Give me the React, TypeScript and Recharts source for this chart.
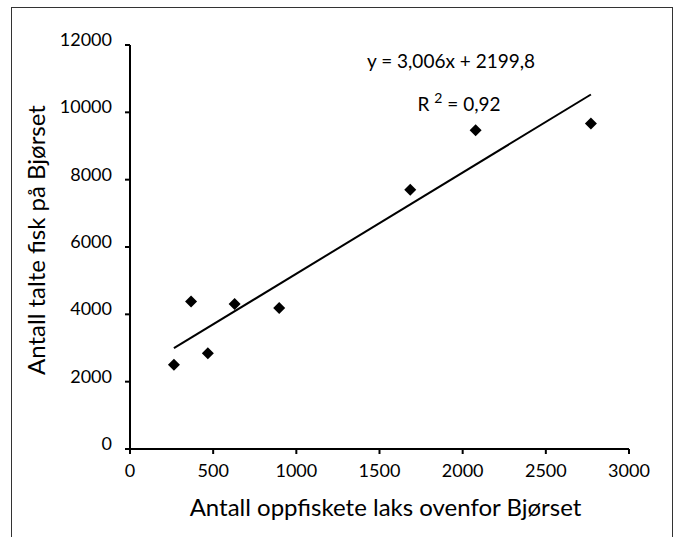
import React from 'react';
import {
  ScatterChart,
  Scatter,
  XAxis,
  YAxis,
  ReferenceLine,
  Label,
} from 'recharts';

// Antall oppfiskete laks ovenfor Bjørset (x) vs antall talte fisk på Bjørset (y)
const oppfisket = [264, 367, 468, 629, 897, 1685, 2078, 2771];
const talte = [2500, 4380, 2845, 4310, 4185, 7700, 9465, 9665];

const xTicks = [0, 500, 1000, 1500, 2000, 2500, 3000];
const yTicks = [0, 2000, 4000, 6000, 8000, 10000, 12000];

// trendline shown in the chart: y = 3,006x + 2199,8
const slope = 3.006;
const intercept = 2199.8;
const trendX = [264, 2771];

const points = oppfisket.map((x, i) => ({ x, y: talte[i] }));
const trendSegment = trendX.map((x) => ({ x, y: slope * x + intercept }));

const FONT = 'Lato, "Open Sans", sans-serif';

const Diamond = (props: any) => {
  const { cx, cy } = props;
  if (cx == null || cy == null) return null;
  const r = 6;
  return (
    <polygon
      points={`${cx},${cy - r} ${cx + r},${cy} ${cx},${cy + r} ${cx - r},${cy}`}
      fill="#000"
    />
  );
};

const YTick = ({ x, y, payload }: any) => (
  <text x={x} y={y + 1} textAnchor="end" fontSize={18} fontFamily={FONT} fill="#000">
    {payload.value}
  </text>
);

const XTick = ({ x, y, payload }: any) => (
  <text x={x} y={y + 21} textAnchor="middle" fontSize={18} fontFamily={FONT} fill="#000">
    {payload.value}
  </text>
);

export default function App() {
  return (
    <div style={{ position: 'absolute', left: 0, top: 0, width: 678, height: 537, overflow: 'hidden', background: '#fff' }}>
      <div
        style={{
          position: 'absolute',
          left: 11,
          top: 7,
          width: 660,
          height: 560,
          borderLeft: '1px solid #333',
          borderTop: '1px solid #333',
          borderRight: '1px solid #333',
        }}
      />
      <ScatterChart
        width={678}
        height={537}
        margin={{ top: 45, right: 49, bottom: 28, left: 70 }}
        style={{ position: 'absolute', left: 0, top: 0 }}
      >
        <XAxis
          type="number"
          dataKey="x"
          domain={[0, 3000]}
          ticks={xTicks}
          height={60}
          tickSize={5}
          tickMargin={2}
          axisLine={{ stroke: '#000', strokeWidth: 2 }}
          tickLine={{ stroke: '#000', strokeWidth: 2 }}
          tick={<XTick />}
          allowDataOverflow
        >
          <Label
            content={({ viewBox }: any) => (
              <text
                x={viewBox.x + viewBox.width / 2 + 6}
                y={516}
                textAnchor="middle"
                fontSize={24}
                fontFamily={FONT}
                fill="#000"
              >
                Antall oppfiskete laks ovenfor Bjørset
              </text>
            )}
          />
        </XAxis>
        <YAxis
          type="number"
          dataKey="y"
          domain={[0, 12000]}
          ticks={yTicks}
          width={60}
          tickSize={5}
          tickMargin={13}
          axisLine={{ stroke: '#000', strokeWidth: 2 }}
          tickLine={{ stroke: '#000', strokeWidth: 2 }}
          tick={<YTick />}
          allowDataOverflow
        >
          <Label
            content={() => (
              <text
                x={45}
                y={240}
                transform="rotate(-90, 45, 240)"
                textAnchor="middle"
                fontSize={24}
                fontFamily={FONT}
                fill="#000"
              >
                Antall talte fisk på Bjørset
              </text>
            )}
          />
        </YAxis>
        <ReferenceLine
          segment={trendSegment}
          stroke="#000"
          strokeWidth={2}
          ifOverflow="visible"
        />
        <Scatter data={points} shape={<Diamond />} isAnimationActive={false} />
      </ScatterChart>
      <svg width={678} height={537} style={{ position: 'absolute', left: 0, top: 0, pointerEvents: 'none' }}>
        <text x={451} y={68} textAnchor="middle" fontSize={19} fontFamily={FONT} fill="#000">
          y = 3,006x + 2199,8
        </text>
        <text x={459} y={111} textAnchor="middle" fontSize={19} fontFamily={FONT} fill="#000">
          R <tspan dy={-8} fontSize={14}>2</tspan>
          <tspan dy={8}> = 0,92</tspan>
        </text>
      </svg>
    </div>
  );
}
